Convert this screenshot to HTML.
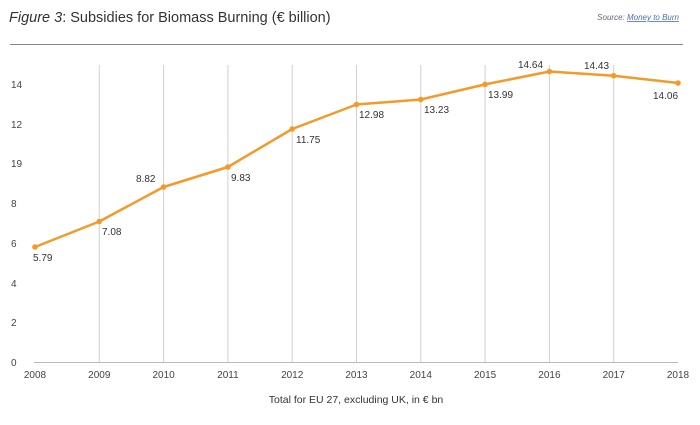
<!DOCTYPE html>
<html><head><meta charset="utf-8"><style>
body{margin:0;background:#fff;width:700px;height:420px;overflow:hidden;font-family:"Liberation Sans",sans-serif}
</style></head><body>
<svg width="700" height="420" xmlns="http://www.w3.org/2000/svg" font-family="Liberation Sans, sans-serif">
<text x="9" y="22" font-size="14.5" fill="#333"><tspan font-style="italic">Figure 3</tspan>: Subsidies for Biomass Burning (€ billion)</text>
<text x="679" y="20" font-size="8" fill="#667" font-style="italic" text-anchor="end">Source: <tspan fill="#4a6fb0" text-decoration="underline">Money to Burn</tspan></text>
<line x1="10" y1="44.5" x2="683" y2="44.5" stroke="#888" stroke-width="1"/>
<g stroke="#d0d0d0" stroke-width="1">
<line x1="99.3" y1="65" x2="99.3" y2="362"/><line x1="163.6" y1="65" x2="163.6" y2="362"/><line x1="227.9" y1="65" x2="227.9" y2="362"/><line x1="292.2" y1="65" x2="292.2" y2="362"/><line x1="356.5" y1="65" x2="356.5" y2="362"/><line x1="420.8" y1="65" x2="420.8" y2="362"/><line x1="485.1" y1="65" x2="485.1" y2="362"/><line x1="549.4" y1="65" x2="549.4" y2="362"/><line x1="613.7" y1="65" x2="613.7" y2="362"/>
</g>
<line x1="34" y1="362.5" x2="678" y2="362.5" stroke="#bbb"/>
<g font-size="10" fill="#444">
<text x="11" y="366">0</text><text x="11" y="326">2</text><text x="11" y="287">4</text><text x="11" y="247">6</text><text x="11" y="207">8</text><text x="11" y="167">19</text><text x="11" y="128">12</text><text x="11" y="88">14</text>
</g>
<g font-size="10" fill="#444" text-anchor="middle">
<text x="35" y="378">2008</text><text x="99.3" y="378">2009</text><text x="163.6" y="378">2010</text><text x="227.9" y="378">2011</text><text x="292.2" y="378">2012</text><text x="356.5" y="378">2013</text><text x="420.8" y="378">2014</text><text x="485.1" y="378">2015</text><text x="549.4" y="378">2016</text><text x="613.7" y="378">2017</text><text x="678" y="378">2018</text>
</g>
<text x="356" y="403" font-size="10.5" fill="#333" text-anchor="middle">Total for EU 27, excluding UK, in € bn</text>
<polyline fill="none" stroke="#f39a2a" stroke-width="2.5" stroke-linejoin="round" points="35,247 99.3,221.5 163.6,187 227.9,167 292.2,129 356.5,104.5 420.8,99.5 485.1,84.4 549.4,71.5 613.7,75.7 678,83"/>
<g fill="#f39a2a">
<circle cx="35" cy="247" r="2.8"/><circle cx="99.3" cy="221.5" r="2.8"/><circle cx="163.6" cy="187" r="2.8"/><circle cx="227.9" cy="167" r="2.8"/><circle cx="292.2" cy="129" r="2.8"/><circle cx="356.5" cy="104.5" r="2.8"/><circle cx="420.8" cy="99.5" r="2.8"/><circle cx="485.1" cy="84.4" r="2.8"/><circle cx="549.4" cy="71.5" r="2.8"/><circle cx="613.7" cy="75.7" r="2.8"/><circle cx="678" cy="83" r="2.8"/>
</g>
<g font-size="10" fill="#333">
<text x="33" y="261">5.79</text><text x="102" y="235">7.08</text><text x="136" y="182">8.82</text><text x="231" y="181">9.83</text><text x="296" y="143">11.75</text><text x="359" y="118">12.98</text><text x="424" y="113">13.23</text><text x="488" y="98">13.99</text><text x="518" y="68">14.64</text><text x="584" y="69">14.43</text><text x="653" y="99">14.06</text>
</g>
</svg>
</body></html>
